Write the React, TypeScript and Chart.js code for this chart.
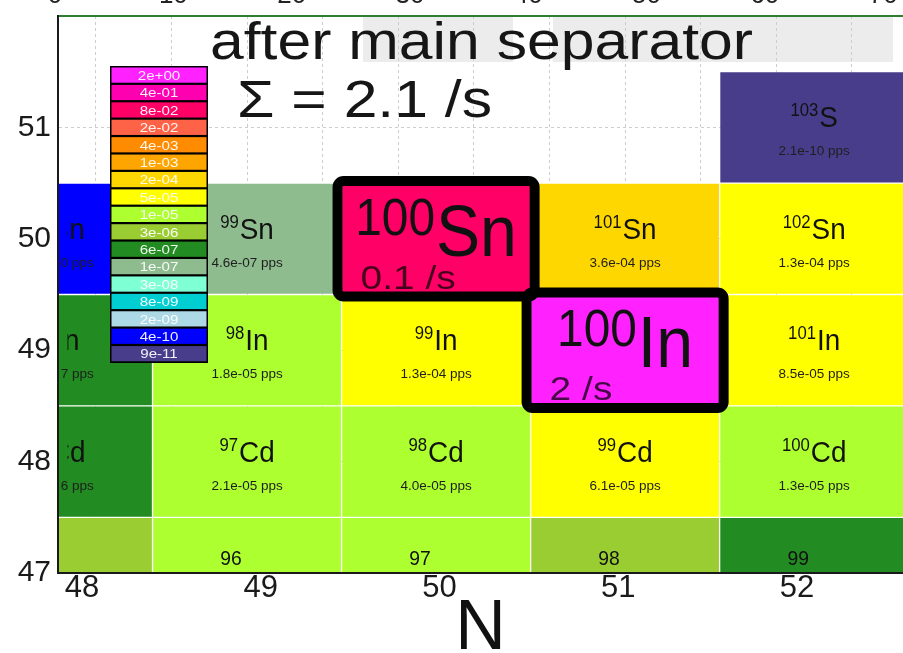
import React, { useEffect, useRef } from 'react';
import { Chart, registerables } from 'chart.js';

Chart.register(...registerables);

const FONT = '"Liberation Sans", Arial, Helvetica, sans-serif';

// ---------- axes ----------
const N_VALUES = [48, 49, 50, 51, 52];
const X_MIN = 48;
const X_MAX = 52.47;
const Y_MIN = 47;
const Y_MAX = 52;
const Y_TICKS = [47, 48, 49, 50, 51];
const BOTTOM_TICKS = [48, 49, 50, 51, 52];
const BOTTOM_MIN = 47.866;
const BOTTOM_MAX = 52.593;
const TOP_TICKS = [0, 10, 20, 30, 40, 50, 60, 70];
const TOP_MIN = 0.25;
const TOP_MAX = 71.68;
const GRID_N = [48.4, 48.8, 49.2, 49.6, 50.0, 50.4, 50.8, 51.2, 51.6, 52.0, 52.4];

// ---------- rows of the nuclide chart (Z), columns N = 48..52 ----------
const ROW_Z = [51, 50, 49, 48, 47];
const ROW_SYMBOLS = ['S', 'Sn', 'In', 'Cd', ''];

const MASS_Z51 = [99, 100, 101, 102, 103];
const MASS_Z50 = [98, 99, 100, 101, 102];
const MASS_Z49 = [97, 98, 99, 100, 101];
const MASS_Z48 = [96, 97, 98, 99, 100];
const MASS_Z47 = [95, 96, 97, 98, 99];

const COLOR_Z51 = [null, null, null, null, '#483d8b'];
const COLOR_Z50 = ['#0000ff', '#8fbc8f', '#ff0066', '#ffd700', '#ffff00'];
const COLOR_Z49 = ['#228b22', '#adff2f', '#ffff00', '#ff22ff', '#ffff00'];
const COLOR_Z48 = ['#228b22', '#adff2f', '#adff2f', '#ffff00', '#adff2f'];
const COLOR_Z47 = ['#9acd32', '#adff2f', '#adff2f', '#9acd32', '#228b22'];

const RATE_Z51 = ['', '', '', '', '2.1e-10 pps'];
const RATE_Z50 = ['4.0e-10 pps', '4.6e-07 pps', '0.1 /s', '3.6e-04 pps', '1.3e-04 pps'];
const RATE_Z49 = ['5.7e-07 pps', '1.8e-05 pps', '1.3e-04 pps', '2 /s', '8.5e-05 pps'];
const RATE_Z48 = ['1.1e-06 pps', '2.1e-05 pps', '4.0e-05 pps', '6.1e-05 pps', '1.3e-05 pps'];
const RATE_Z47 = ['', '', '', '', ''];

const HIGHLIGHT_N = [50, 51];
const HIGHLIGHT_Z = [50, 49];

// ---------- legend ----------
const LEGEND_LABELS = ['2e+00', '4e-01', '8e-02', '2e-02', '4e-03', '1e-03', '2e-04', '5e-05', '1e-05', '3e-06', '6e-07', '1e-07', '3e-08', '8e-09', '2e-09', '4e-10', '9e-11'];
const LEGEND_COLORS = ['#ff22ff', '#ff00b0', '#ff0066', '#ff6347', '#ff8c00', '#ffa500', '#ffd700', '#ffff00', '#adff2f', '#9acd32', '#228b22', '#8fbc8f', '#7fffd4', '#00ced1', '#add8e6', '#0000ff', '#483d8b'];

const TITLE_TEXT = 'after main separator';
const TOTAL_TEXT = 'Σ = 2.1 /s';
const AXIS_TITLE = 'N';

// ---------- build cells ----------
const MASS_ROWS = [MASS_Z51, MASS_Z50, MASS_Z49, MASS_Z48, MASS_Z47];
const COLOR_ROWS = [COLOR_Z51, COLOR_Z50, COLOR_Z49, COLOR_Z48, COLOR_Z47];
const RATE_ROWS = [RATE_Z51, RATE_Z50, RATE_Z49, RATE_Z48, RATE_Z47];

type Cell = { n: number; z: number; mass: number; sym: string; rate: string; color: string };
const CELLS: Cell[] = [];
ROW_Z.forEach((z, r) => {
  N_VALUES.forEach((n, i) => {
    const color = COLOR_ROWS[r][i];
    if (color) {
      CELLS.push({ n, z, mass: MASS_ROWS[r][i], sym: ROW_SYMBOLS[r], rate: RATE_ROWS[r][i], color });
    }
  });
});

const isHighlighted = (c: Cell) => HIGHLIGHT_N.some((n, i) => n === c.n && HIGHLIGHT_Z[i] === c.z);

// ---------- drawing helpers ----------
function drawScaled(ctx: CanvasRenderingContext2D, text: string, x: number, y: number, size: number, color: string, scaleX: number, align: 'left' | 'center') {
  ctx.save();
  ctx.font = `${size}px ${FONT}`;
  ctx.fillStyle = color;
  ctx.textAlign = 'left';
  ctx.textBaseline = 'alphabetic';
  const w = ctx.measureText(text).width * scaleX;
  const left = align === 'center' ? x - w / 2 : x;
  ctx.translate(left, y);
  ctx.scale(scaleX, 1);
  ctx.fillText(text, 0, 0);
  ctx.restore();
}

function drawFitted(ctx: CanvasRenderingContext2D, text: string, x: number, y: number, size: number, color: string, width: number) {
  ctx.save();
  ctx.font = `${size}px ${FONT}`;
  const w = ctx.measureText(text).width;
  ctx.restore();
  drawScaled(ctx, text, x, y, size, color, width / w, 'left');
}

function drawIsotope(ctx: CanvasRenderingContext2D, cx: number, baseY: number, mass: string, sym: string, supPx: number, mainPx: number, raise: number, scaleX: number, gap: number) {
  ctx.save();
  const supFont = `${supPx}px ${FONT}`;
  const mainFont = `${mainPx}px ${FONT}`;
  ctx.font = supFont;
  const ws = ctx.measureText(mass).width;
  ctx.font = mainFont;
  const wm = ctx.measureText(sym).width;
  const total = (ws + gap + wm) * scaleX;
  ctx.translate(cx - total / 2, baseY);
  ctx.scale(scaleX, 1);
  ctx.fillStyle = '#111';
  ctx.textAlign = 'left';
  ctx.textBaseline = 'alphabetic';
  ctx.font = supFont;
  ctx.fillText(mass, 0, -raise);
  ctx.font = mainFont;
  ctx.fillText(sym, ws + gap, 0);
  ctx.restore();
}

function clipTo(ctx: CanvasRenderingContext2D, a: any, leftInset: number) {
  ctx.beginPath();
  ctx.rect(a.left + leftInset, a.top, a.right - a.left - leftInset, a.bottom - a.top);
  ctx.clip();
}

const overlayPlugin = {
  id: 'nuclideOverlay',
  beforeDraw(chart: any) {
    const ctx: CanvasRenderingContext2D = chart.ctx;
    const a = chart.chartArea;
    ctx.save();
    ctx.fillStyle = '#ececec';
    ctx.fillRect(363, a.top, 150, 46);
    ctx.fillRect(553, a.top, 340, 46);
    ctx.restore();
  },
  afterDatasetsDraw(chart: any) {
    const ctx: CanvasRenderingContext2D = chart.ctx;
    const a = chart.chartArea;
    const xs = chart.scales.x;
    const ys = chart.scales.y;

    // isotope names (edge column partly hidden)
    ctx.save();
    clipTo(ctx, a, 9.5);
    CELLS.forEach((c) => {
      const cx = xs.getPixelForValue(c.n);
      const cy = ys.getPixelForValue(c.z);
      if (isHighlighted(c)) {
        drawIsotope(ctx, cx, cy + 17, String(c.mass), c.sym, 52, 72, 21, 0.92, 1);
      } else if (c.sym === '') {
        drawScaled(ctx, String(c.mass), cx - 16, cy - 8, 21, '#111', 0.92, 'center');
      } else {
        drawIsotope(ctx, cx, cy, String(c.mass), c.sym, 18, 30, 11, 0.93, 1);
      }
    });
    ctx.restore();

    // rates
    ctx.save();
    clipTo(ctx, a, 3);
    CELLS.forEach((c) => {
      const cx = xs.getPixelForValue(c.n);
      const cy = ys.getPixelForValue(c.z);
      const left = xs.getPixelForValue(c.n - 0.5);
      if (isHighlighted(c)) {
        drawScaled(ctx, c.rate, left + 19, cy + 50, 33, 'rgba(0,0,0,0.72)', 1.18, 'left');
      } else if (c.rate) {
        drawScaled(ctx, c.rate, cx, cy + 28, 13.5, '#1e1e1e', 1, 'center');
      }
    });
    ctx.restore();

    ctx.save();
    clipTo(ctx, a, 0);
    // highlight frames
    CELLS.filter(isHighlighted).forEach((c) => {
      const l = xs.getPixelForValue(c.n - 0.5) - 4;
      const r = xs.getPixelForValue(c.n + 0.5) + 4;
      const t = ys.getPixelForValue(c.z + 0.5) - 2;
      const b = ys.getPixelForValue(c.z - 0.5) + 2;
      ctx.save();
      ctx.strokeStyle = '#000';
      ctx.lineWidth = 10;
      ctx.beginPath();
      (ctx as any).roundRect(l, t, r - l, b - t, 6);
      ctx.stroke();
      ctx.restore();
    });

    // title texts
    drawFitted(ctx, TITLE_TEXT, 210, 59, 51, '#161616', 543);
    drawFitted(ctx, TOTAL_TEXT, 237, 117, 51, '#161616', 255);

    // colour legend
    const lx = 110, ly = 66, lw = 98, rowH = 296 / LEGEND_LABELS.length;
    ctx.fillStyle = '#000';
    ctx.fillRect(lx, ly, lw, rowH * LEGEND_LABELS.length + 1);
    LEGEND_LABELS.forEach((lab, i) => {
      const top = ly + i * rowH;
      ctx.fillStyle = LEGEND_COLORS[i];
      ctx.fillRect(lx + 1.5, top + 1.5, lw - 3, rowH - 2.2);
      ctx.save();
      ctx.font = `13.5px ${FONT}`;
      const w = ctx.measureText(lab).width * 1.12;
      ctx.translate(lx + lw / 2 - w / 2, top + rowH / 2 + 5.2);
      ctx.scale(1.12, 1);
      ctx.fillStyle = 'rgba(255,255,255,0.93)';
      ctx.fillText(lab, 0, 0);
      ctx.restore();
    });
    ctx.restore();
  },
};

function zeroPad(s: any) {
  s.paddingLeft = 0;
  s.paddingRight = 0;
  s.paddingTop = 0;
  s.paddingBottom = 0;
}

export default function App() {
  const ref = useRef<HTMLCanvasElement>(null);
  useEffect(() => {
    document.body.style.margin = '0';
    const chart = new Chart(ref.current as HTMLCanvasElement, {
      type: 'bar',
      data: {
        datasets: [
          {
            data: CELLS.map((c) => ({ x: c.n, y: [c.z - 0.5, c.z + 0.5] })) as any,
            backgroundColor: CELLS.map((c) => c.color),
            borderColor: 'rgba(255,255,255,0.18)',
            borderWidth: 1,
            borderSkipped: false,
            barPercentage: 1,
            categoryPercentage: 1,
            grouped: false,
            clip: 0,
          } as any,
        ],
      },
      options: {
        responsive: false,
        animation: false,
        events: [],
        layout: { padding: 0 },
        plugins: { legend: { display: false }, tooltip: { enabled: false }, title: { display: false } },
        scales: {
          x: {
            type: 'linear',
            min: X_MIN,
            max: X_MAX,
            display: false,
            offset: false,
            afterBuildTicks: (s: any) => { s.ticks = N_VALUES.map((v) => ({ value: v })); },
          },
          xg: {
            type: 'linear',
            position: 'top',
            min: X_MIN,
            max: X_MAX,
            offset: false,
            grid: { display: true, color: '#cdcdcd', lineWidth: 1, drawTicks: false },
            border: { display: false, dash: [3, 3] },
            ticks: { display: false },
            afterBuildTicks: (s: any) => { s.ticks = GRID_N.map((v) => ({ value: v })); },
            afterFit: (s: any) => { s.height = 0; zeroPad(s); },
          },
          x2: {
            type: 'linear',
            position: 'top',
            min: TOP_MIN,
            max: TOP_MAX,
            offset: false,
            grid: { display: false, drawTicks: false },
            border: { display: true, color: '#2e7d32', width: 2, z: 1 },
            ticks: { font: { size: 26, family: FONT, lineHeight: 1 }, color: '#222', padding: 7, maxRotation: 0, autoSkip: false },
            afterBuildTicks: (s: any) => { s.ticks = TOP_TICKS.map((v) => ({ value: v })); },
            afterFit: (s: any) => { s.height = 16; zeroPad(s); },
          },
          x3: {
            type: 'linear',
            position: 'bottom',
            min: BOTTOM_MIN,
            max: BOTTOM_MAX,
            offset: false,
            grid: { display: false, drawTicks: false },
            border: { display: true, color: '#1a1a1a', width: 2, z: 1 },
            ticks: { font: { size: 31, family: FONT, lineHeight: 1 }, color: '#1a1a1a', padding: 0, maxRotation: 0, autoSkip: false },
            title: { display: true, text: AXIS_TITLE, color: '#111', font: { size: 70, family: FONT, lineHeight: 1 }, padding: { top: 0, bottom: -12 } },
            afterBuildTicks: (s: any) => { s.ticks = BOTTOM_TICKS.map((v) => ({ value: v })); },
            afterFit: (s: any) => { s.height = 80; zeroPad(s); },
          },
          y: {
            type: 'linear',
            position: 'left',
            min: Y_MIN,
            max: Y_MAX,
            grid: { color: '#cdcdcd', lineWidth: 1, drawTicks: false },
            border: { display: true, color: '#1a1a1a', width: 2, dash: [3, 3], z: 1 },
            ticks: { font: { size: 30, family: FONT, lineHeight: 0.3 }, color: '#1a1a1a', padding: 7 },
            afterBuildTicks: (s: any) => { s.ticks = Y_TICKS.map((v) => ({ value: v })); },
            afterFit: (s: any) => { s.width = 58; zeroPad(s); },
          },
        } as any,
      },
      plugins: [overlayPlugin],
    });
    return () => chart.destroy();
  }, []);
  return (
    <div style={{ position: 'fixed', left: 0, top: 0, width: 903, height: 653, overflow: 'hidden', background: '#fff' }}>
      <canvas ref={ref} width={903} height={653} style={{ width: 903, height: 653, display: 'block' }} />
    </div>
  );
}
